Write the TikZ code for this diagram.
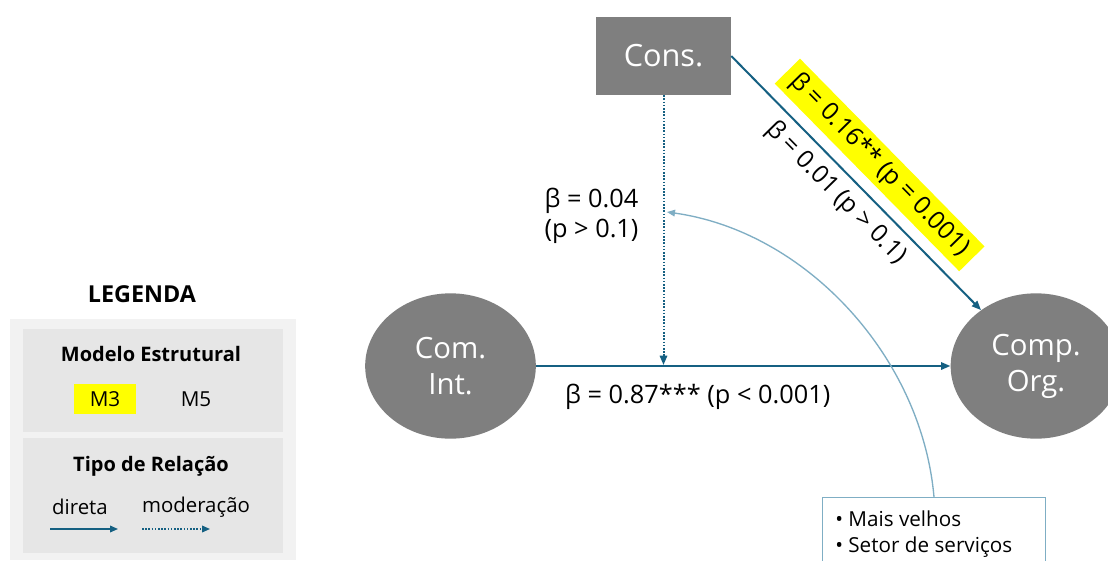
\documentclass[tikz,border=0pt]{standalone}
\usepackage{fontspec}
\setmainfont{Open Sans}
\usetikzlibrary{arrows.meta,shapes.geometric,positioning}
\definecolor{dblue}{HTML}{156082}
\definecolor{lblue}{HTML}{7FAEC4}
\definecolor{ngray}{HTML}{7F7F7F}
\definecolor{hly}{HTML}{FFFF00}
\definecolor{lgout}{HTML}{F2F2F2}
\definecolor{lgin}{HTML}{E6E6E6}
\begin{document}
\begin{tikzpicture}[x=0.75pt,y=-0.75pt,
  latent/.style={ellipse, fill=ngray, text=white, minimum width=128pt, minimum height=109pt, inner sep=0pt, align=center, font=\fontsize{22}{27}\selectfont},
  obs/.style={rectangle, fill=ngray, text=white, minimum width=101.25pt, minimum height=58.5pt, font=\fontsize{23}{28}\selectfont},
  direct/.style={draw=dblue, line width=1.5pt, -{Triangle[length=7pt,width=5.5pt]}},
  moder/.style={draw=dblue, line width=1.5pt, dash pattern=on 1.2pt off 1.2pt, -{Triangle[length=7pt,width=5.5pt]}},
  legarrow/.style={line width=1.1pt, -{Triangle[length=6pt,width=5pt]}},
  lab/.style={font=\fontsize{19}{22}\selectfont, inner sep=1pt},
  rlab/.style={font=\fontsize{18.5}{22}\selectfont, inner sep=1pt},
  legtitle/.style={font=\bfseries\fontsize{17.5}{21}\selectfont},
  legsub/.style={font=\bfseries\fontsize{15}{18}\selectfont},
  legtxt/.style={font=\fontsize{15.5}{18}\selectfont},
  legsmall/.style={font=\fontsize{15.3}{18}\selectfont},
  modarc/.style={draw=lblue, line width=1pt, -{Triangle[length=6pt,width=5pt]}},
  modbox/.style={draw=lblue, line width=1pt, fill=white, anchor=north west, minimum width=167pt, minimum height=75pt, inner sep=0pt},
]
\clip (0,0) rectangle (1108,561);
\fill[white] (0,0) rectangle (1108,561);

% ---------- legend ----------
\fill[lgout] (10,319) rectangle (296,560);
\fill[lgin] (23,329) rectangle (283,432);
\fill[lgin] (23,438) rectangle (283,553);
\node[legtitle] (leg) at (142,294) {LEGENDA};
\node[legsub] (modt) at (151,354) {Modelo Estrutural};
\node[legtxt, fill=hly, minimum width=46.5pt, minimum height=23pt, inner sep=0pt] (m3) at (105,399) {M3};
\node[legtxt] (m5) at (196,399) {M5};
\node[legsub] (tipo) at (151,466) {Tipo de Relação};
\node[legsmall] (dir) at (80,507) {direta};
\node[legsmall] (mod) at (196,507) {moderação};
\coordinate (d1) at (50,529);
\coordinate (d2) at (118,529);
\coordinate (e1) at (142,529);
\coordinate (e2) at (210,529);
\draw[direct, legarrow] (d1) -- (d2);
\draw[moder, legarrow] (e1) -- (e2);

% ---------- model ----------
\node[obs] (cons) at (663.5,56) {Cons.};
\node[latent] (ci) at (450.5,366) {Com.\\Int.};
\node[latent] (co) at (1036,366) {Comp.\\Org.};

\draw[direct] (ci) -- node[pos=0.39, below=12pt, lab] (l87) {β = 0.87*** (p < 0.001)} (co);

\coordinate (mid) at (cons.south |- ci.center);
\draw[moder, shorten >=0.75pt] (cons.south) -- (mid);

\node[lab, align=left, anchor=west] (l04) at (543,216) {β = 0.04\\(p > 0.1)};

\draw[direct] (cons.east) --
  node[pos=0.51, sloped, above=8pt, fill=hly, rlab, inner xsep=7pt, inner ysep=4pt] (l16) {β = 0.16** (p = 0.001)}
  node[pos=0.48, sloped, below=5pt, rlab] (l01) {β = 0.01 (p > 0.1)} (co);

% ---------- moderators ----------
\node[modbox] (mods) at (822,497) {};
\coordinate (ae) at (667,212);
\draw[modarc] (mods.north) to[out=95, in=-8, looseness=0.92] (ae);
\node[anchor=north west, align=left, font=\fontsize{15.5}{19.5}\selectfont, inner sep=0pt] (btxt) at (835,511) {• Mais velhos\\• Setor de serviços};
\end{tikzpicture}
\end{document}
